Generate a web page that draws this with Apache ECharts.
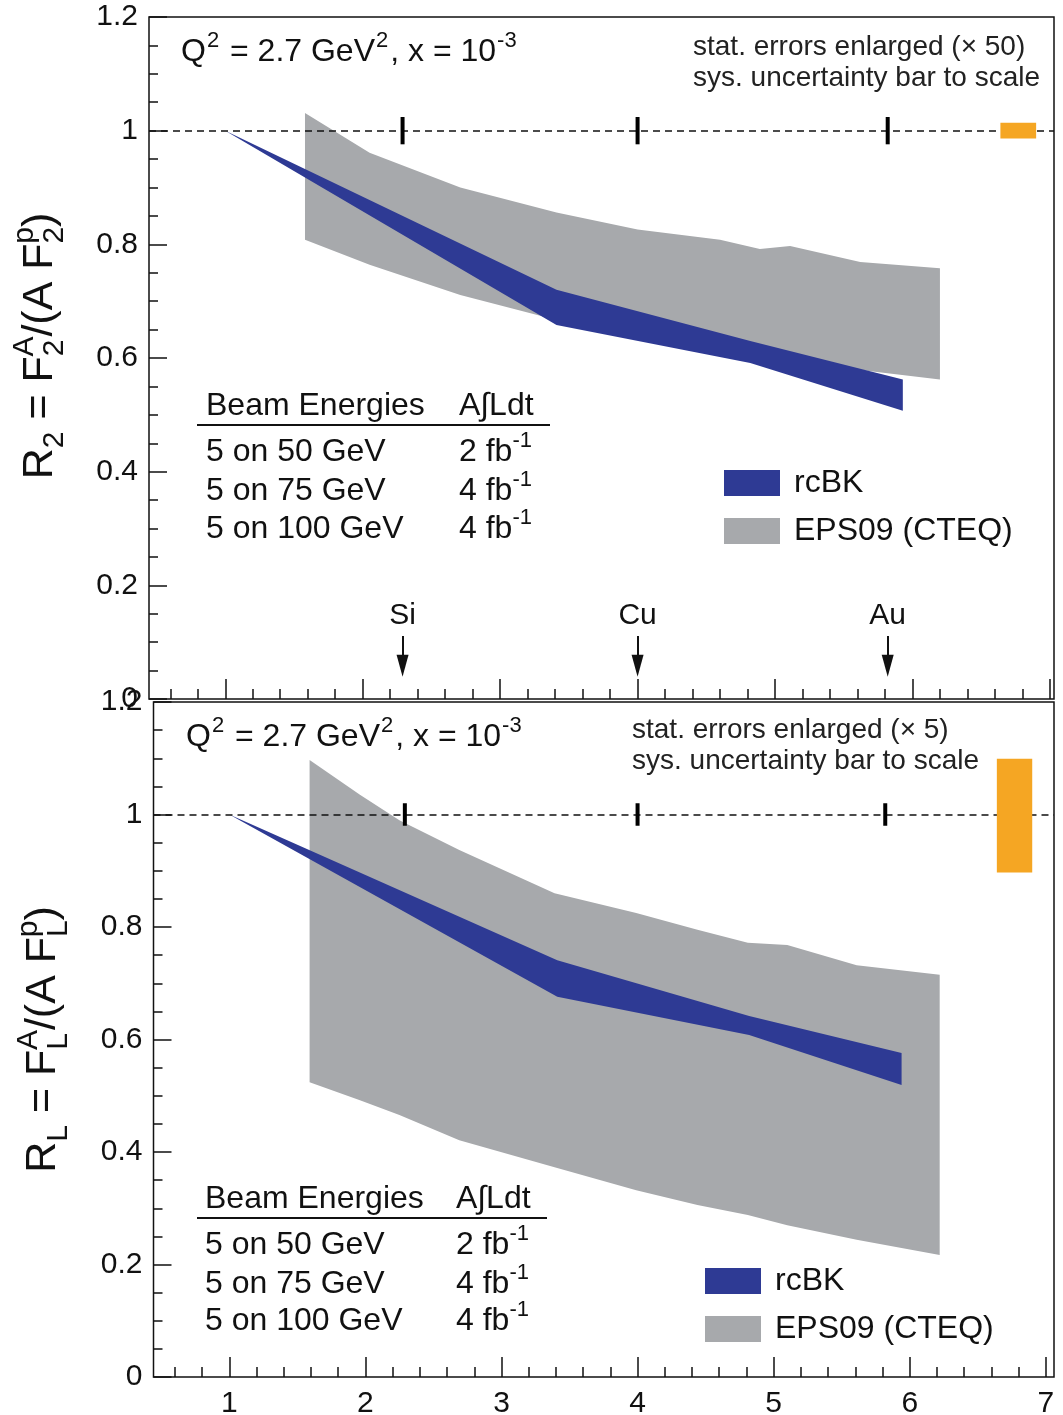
<!DOCTYPE html>
<html>
<head>
<meta charset="utf-8">
<script src="https://cdn.jsdelivr.net/npm/echarts@6/dist/echarts.min.js"></script>
<style>
  html, body { margin: 0; padding: 0; background: #fff; }
  #chart { width: 1063px; height: 1415px; }
</style>
</head>
<body>
<div id="chart"></div>
<script>
// Nuclear modification ratios R2 and RL versus A^(1/3)
const FONT = '"Liberation Sans", Arial, Helvetica, sans-serif';
const INK = '#111';
const BLUE = '#2E3A94';
const GREY = '#A7A9AC';
const ORANGE = '#F5A623';

// ---- R2 panel ----
const R2_RCBK_X  = [1.00, 3.41, 4.82, 5.93];
const R2_RCBK_LO = [1.000, 0.658, 0.591, 0.507];
const R2_RCBK_HI = [1.000, 0.720, 0.630, 0.562];

const R2_EPS_X  = [1.58, 2.05, 2.71, 3.41, 4.00, 4.60, 4.89, 5.11, 5.62, 6.20];
const R2_EPS_LO = [0.808, 0.764, 0.711, 0.667, 0.641, 0.616, 0.606, 0.597, 0.579, 0.562];
const R2_EPS_HI = [1.031, 0.961, 0.900, 0.856, 0.826, 0.808, 0.792, 0.797, 0.769, 0.758];

const R2_STAT_ERR = [0.024, 0.024, 0.024];
const R2_SYS_X = [6.64, 6.90];
const R2_SYS_Y = [0.986, 1.014];

// ---- RL panel ----
const RL_RCBK_X  = [1.00, 3.41, 4.82, 5.94];
const RL_RCBK_LO = [1.000, 0.676, 0.608, 0.519];
const RL_RCBK_HI = [1.000, 0.741, 0.642, 0.576];

const RL_EPS_X  = [1.59, 1.96, 2.25, 2.69, 3.39, 3.99, 4.44, 4.81, 5.10, 5.61, 6.22];
const RL_EPS_LO = [0.524, 0.492, 0.466, 0.421, 0.373, 0.332, 0.306, 0.288, 0.270, 0.244, 0.217];
const RL_EPS_HI = [1.097, 1.035, 0.990, 0.937, 0.860, 0.825, 0.795, 0.772, 0.768, 0.732, 0.715];

const RL_STAT_ERR = [0.020, 0.020, 0.020];
const RL_SYS_X = [6.64, 6.90];
const RL_SYS_Y = [0.897, 1.099];

// ---- shared ----
const NUCLEI   = ['Si', 'Cu', 'Au'];
const NUCLEI_X = [2.29, 4.00, 5.82];
const X_MAJOR = [1, 2, 3, 4, 5, 6, 7];
const X_MINOR = [0.6, 0.8, 1.2, 1.4, 1.6, 1.8, 2.2, 2.4, 2.6, 2.8, 3.2, 3.4, 3.6, 3.8,
                 4.2, 4.4, 4.6, 4.8, 5.2, 5.4, 5.6, 5.8, 6.2, 6.4, 6.6, 6.8];
const SERIES_NAMES = ['rcBK', 'EPS09 (CTEQ)'];
const BEAMS = ['5 on 50 GeV', '5 on 75 GeV', '5 on 100 GeV'];
const LUMI  = ['2', '4', '4'];

// arrow annotations (value units on the R2 axis)
const ARROW_FROM = 0.111;
const ARROW_TO = 0.0586;

// turn "a_{b}^{c}" style markup into ECharts rich text tokens
function richify(s) {
  let out = '', plain = '', i = 0;
  const flush = () => { if (plain) { out += '{m|' + plain + '}'; plain = ''; } };
  while (i < s.length) {
    const c = s[i];
    if ((c === '^' || c === '_') && s[i + 1] === '{') {
      const end = s.indexOf('}', i);
      const body = s.slice(i + 2, end);
      flush();
      let key = c === '^' ? 'sup' : 'sub';
      if (c === '_' && s[end + 1] === '^') key = 'subs';
      out += '{' + key + '|' + body + '}';
      i = end + 1;
    } else { plain += c; i++; }
  }
  flush();
  return out;
}
function richStyles(fs, sfs, lh, supPad) {
  const base = { fontFamily: FONT, color: INK, fill: INK };
  const sp = supPad || 0;
  return {
    m:    Object.assign({ fontSize: fs, lineHeight: lh, verticalAlign: 'middle' }, base),
    sup:  Object.assign({ fontSize: sfs, lineHeight: sfs, verticalAlign: 'top',
                          padding: [0, sp, 0, Math.round(sp / 2)] }, base),
    sub:  Object.assign({ fontSize: sfs, lineHeight: sfs, verticalAlign: 'bottom' }, base),
    subs: Object.assign({ fontSize: sfs, lineHeight: sfs, verticalAlign: 'bottom',
                          padding: [0, -Math.round(0.556 * sfs), 0, 0] }, base)
  };
}

function band(name, xs, lo, hi, color, gi, z) {
  return {
    type: 'custom', name, xAxisIndex: gi * 2, yAxisIndex: gi, z,
    itemStyle: { color }, silent: true, animation: false,
    data: xs.map((x, i) => [x, lo[i], hi[i]]),
    encode: { x: 0, y: [1, 2] },
    renderItem(params, api) {
      if (params.dataIndex !== 0) return { type: 'group', children: [] };
      const pts = [];
      for (let i = 0; i < xs.length; i++) pts.push(api.coord([xs[i], lo[i]]));
      for (let i = xs.length - 1; i >= 0; i--) pts.push(api.coord([xs[i], hi[i]]));
      return { type: 'polygon', shape: { points: pts }, style: { fill: color } };
    }
  };
}

function statPoints(err, gi, withArrows) {
  const mlData = [{ yAxis: 1, label: { show: false },
                    lineStyle: { type: [7, 5], width: 1.5, color: INK } }];
  if (withArrows) {
    NUCLEI.forEach((n, i) => {
      mlData.push([
        { coord: [NUCLEI_X[i], ARROW_FROM], name: n, symbol: 'none' },
        { coord: [NUCLEI_X[i], ARROW_TO], symbol: 'triangle', symbolSize: [12, 22] }
      ]);
    });
  }
  return {
    type: 'custom', xAxisIndex: gi * 2, yAxisIndex: gi, z: 5, silent: true, animation: false,
    data: NUCLEI_X.map((x, i) => [x, 1 - err[i], 1 + err[i]]),
    encode: { x: 0, y: [1, 2] },
    renderItem(params, api) {
      const x = api.value(0);
      const top = api.coord([x, api.value(2)]);
      const bot = api.coord([x, api.value(1)]);
      return { type: 'rect', shape: { x: top[0] - 2, y: top[1], width: 4, height: bot[1] - top[1] },
               style: { fill: '#000' } };
    },
    markLine: {
      silent: true, animation: false, symbol: 'none',
      lineStyle: { type: 'solid', width: 2, color: INK },
      label: { show: true, position: 'start', formatter: '{b}', fontSize: 30,
               fontFamily: FONT, color: INK, distance: 5 },
      emphasis: { disabled: true },
      data: mlData
    }
  };
}

function sysBar(xr, yr, gi) {
  return {
    type: 'custom', xAxisIndex: gi * 2, yAxisIndex: gi, z: 6, silent: true, animation: false,
    data: [[xr[0], xr[1], yr[0], yr[1]]],
    encode: { x: [0, 1], y: [2, 3] },
    renderItem(params, api) {
      const a = api.coord([api.value(0), api.value(3)]);
      const b = api.coord([api.value(1), api.value(2)]);
      return { type: 'rect', shape: { x: a[0], y: a[1], width: b[0] - a[0], height: b[1] - a[1] },
               style: { fill: ORANGE } };
    }
  };
}

const tickLine = { color: INK, width: 1.5 };
function xAxes(gi, min, max, labels) {
  const common = { type: 'value', gridIndex: gi, min, max, position: 'bottom',
                   axisLine: { show: false }, splitLine: { show: false } };
  return [
    Object.assign({}, common, {
      axisTick: { show: true, inside: true, length: 20, lineStyle: tickLine, customValues: X_MAJOR },
      axisLabel: { show: labels, customValues: X_MAJOR, fontSize: 30, margin: 12,
                   color: INK, fontFamily: FONT }
    }),
    Object.assign({}, common, {
      axisTick: { show: true, inside: true, length: 10, lineStyle: tickLine, customValues: X_MINOR },
      axisLabel: { show: false }
    })
  ];
}
function yAxis(gi, name, gap, pad) {
  return {
    type: 'value', gridIndex: gi, min: 0, max: 1.2, interval: 0.2,
    axisLine: { show: false }, splitLine: { show: false },
    axisTick: { show: true, inside: true, length: 18, lineStyle: tickLine },
    minorTick: { show: true, splitNumber: 4, length: 9, lineStyle: tickLine },
    minorSplitLine: { show: false },
    axisLabel: { fontSize: 30, margin: 11, color: INK, fontFamily: FONT },
    name: richify(name), nameLocation: 'middle', nameGap: gap, nameRotate: 90,
    nameTextStyle: { fontSize: 43, fontFamily: FONT, color: INK, padding: pad,
                     rich: richStyles(43, 30, 60) }
  };
}

function legend(left, top) {
  return {
    left, top, orient: 'vertical', padding: 0, itemWidth: 56, itemHeight: 26, itemGap: 16,
    icon: 'rect', selectedMode: false,
    textStyle: { fontSize: 32, fontFamily: FONT, color: INK, padding: [0, 0, 0, 9] },
    data: [
      { name: SERIES_NAMES[0], itemStyle: { color: BLUE } },
      { name: SERIES_NAMES[1], itemStyle: { color: GREY } }
    ]
  };
}

function txt(x, y, s, fs, color, sfs, supPad) {
  const rs = richStyles(fs, sfs || Math.round(fs * 0.7), Math.round(fs * 1.4), supPad);
  Object.keys(rs).forEach(k => { rs[k].fill = color || INK; });
  return { type: 'text', x, y, silent: true, z: 10,
           style: { text: richify(s), rich: rs, fontSize: fs, fontFamily: FONT,
                    fill: color || INK, verticalAlign: 'middle', align: 'left' } };
}
function table(x1, x2, yHead, yLine, lineX0, lineX1, rowYs) {
  const els = [
    txt(x1, yHead, 'Beam Energies', 32),
    txt(x2, yHead, 'A\u222BLdt', 32),
    { type: 'line', silent: true, z: 10,
      shape: { x1: lineX0, y1: yLine, x2: lineX1, y2: yLine },
      style: { stroke: INK, lineWidth: 2 } }
  ];
  BEAMS.forEach((b, i) => {
    els.push(txt(x1, rowYs[i], b, 32));
    els.push(txt(x2, rowYs[i], LUMI[i] + ' fb^{-1}', 32, INK, 22));
  });
  return els;
}

const graphics = [].concat(
  [
    txt(181, 52, 'Q^{2} = 2.7 GeV^{2}, x = 10^{-3}', 32, INK, 22, 2),
    txt(693, 47, 'stat. errors enlarged (\u00D7 50)', 28, '#222'),
    txt(693, 78, 'sys. uncertainty bar to scale', 28, '#222'),
    txt(186, 737, 'Q^{2} = 2.7 GeV^{2}, x = 10^{-3}', 32, INK, 22, 2),
    txt(632, 730, 'stat. errors enlarged (\u00D7 5)', 28, '#222'),
    txt(632, 761, 'sys. uncertainty bar to scale', 28, '#222')
  ],
  table(206, 459, 406, 425, 197, 550, [452, 491, 529]),
  table(205, 456, 1199, 1218, 197, 547, [1245, 1284, 1321])
);

const chart = echarts.init(document.getElementById('chart'), null, { renderer: 'canvas' });
chart.setOption({
  animation: false,
  backgroundColor: '#fff',
  textStyle: { fontFamily: FONT },
  grid: [
    { left: 149, top: 17, width: 905, height: 682, show: true, borderColor: INK, borderWidth: 1.5,
      backgroundColor: 'transparent', containLabel: false, outerBoundsMode: 'none' },
    { left: 153.5, top: 702, width: 900.5, height: 675, show: true, borderColor: INK, borderWidth: 1.5,
      backgroundColor: 'transparent', containLabel: false, outerBoundsMode: 'none' }
  ],
  xAxis: [].concat(xAxes(0, 0.445, 7.03, false), xAxes(1, 0.443, 7.06, true)),
  yAxis: [
    yAxis(0, 'R_{2} = F_{2}^{A}/(A F_{2}^{p})', 79, [0, 0, 0, 24]),
    yAxis(1, 'R_{L} = F_{L}^{A}/(A F_{L}^{p})', 80, [0, 0, 0, 0])
  ],
  legend: [legend(724, 467), legend(705, 1265)],
  graphic: graphics,
  series: [
    band(SERIES_NAMES[1], R2_EPS_X, R2_EPS_LO, R2_EPS_HI, GREY, 0, 2),
    band(SERIES_NAMES[0], R2_RCBK_X, R2_RCBK_LO, R2_RCBK_HI, BLUE, 0, 3),
    statPoints(R2_STAT_ERR, 0, true),
    sysBar(R2_SYS_X, R2_SYS_Y, 0),
    band(SERIES_NAMES[1], RL_EPS_X, RL_EPS_LO, RL_EPS_HI, GREY, 1, 2),
    band(SERIES_NAMES[0], RL_RCBK_X, RL_RCBK_LO, RL_RCBK_HI, BLUE, 1, 3),
    statPoints(RL_STAT_ERR, 1, false),
    sysBar(RL_SYS_X, RL_SYS_Y, 1)
  ]
});
</script>
</body>
</html>
